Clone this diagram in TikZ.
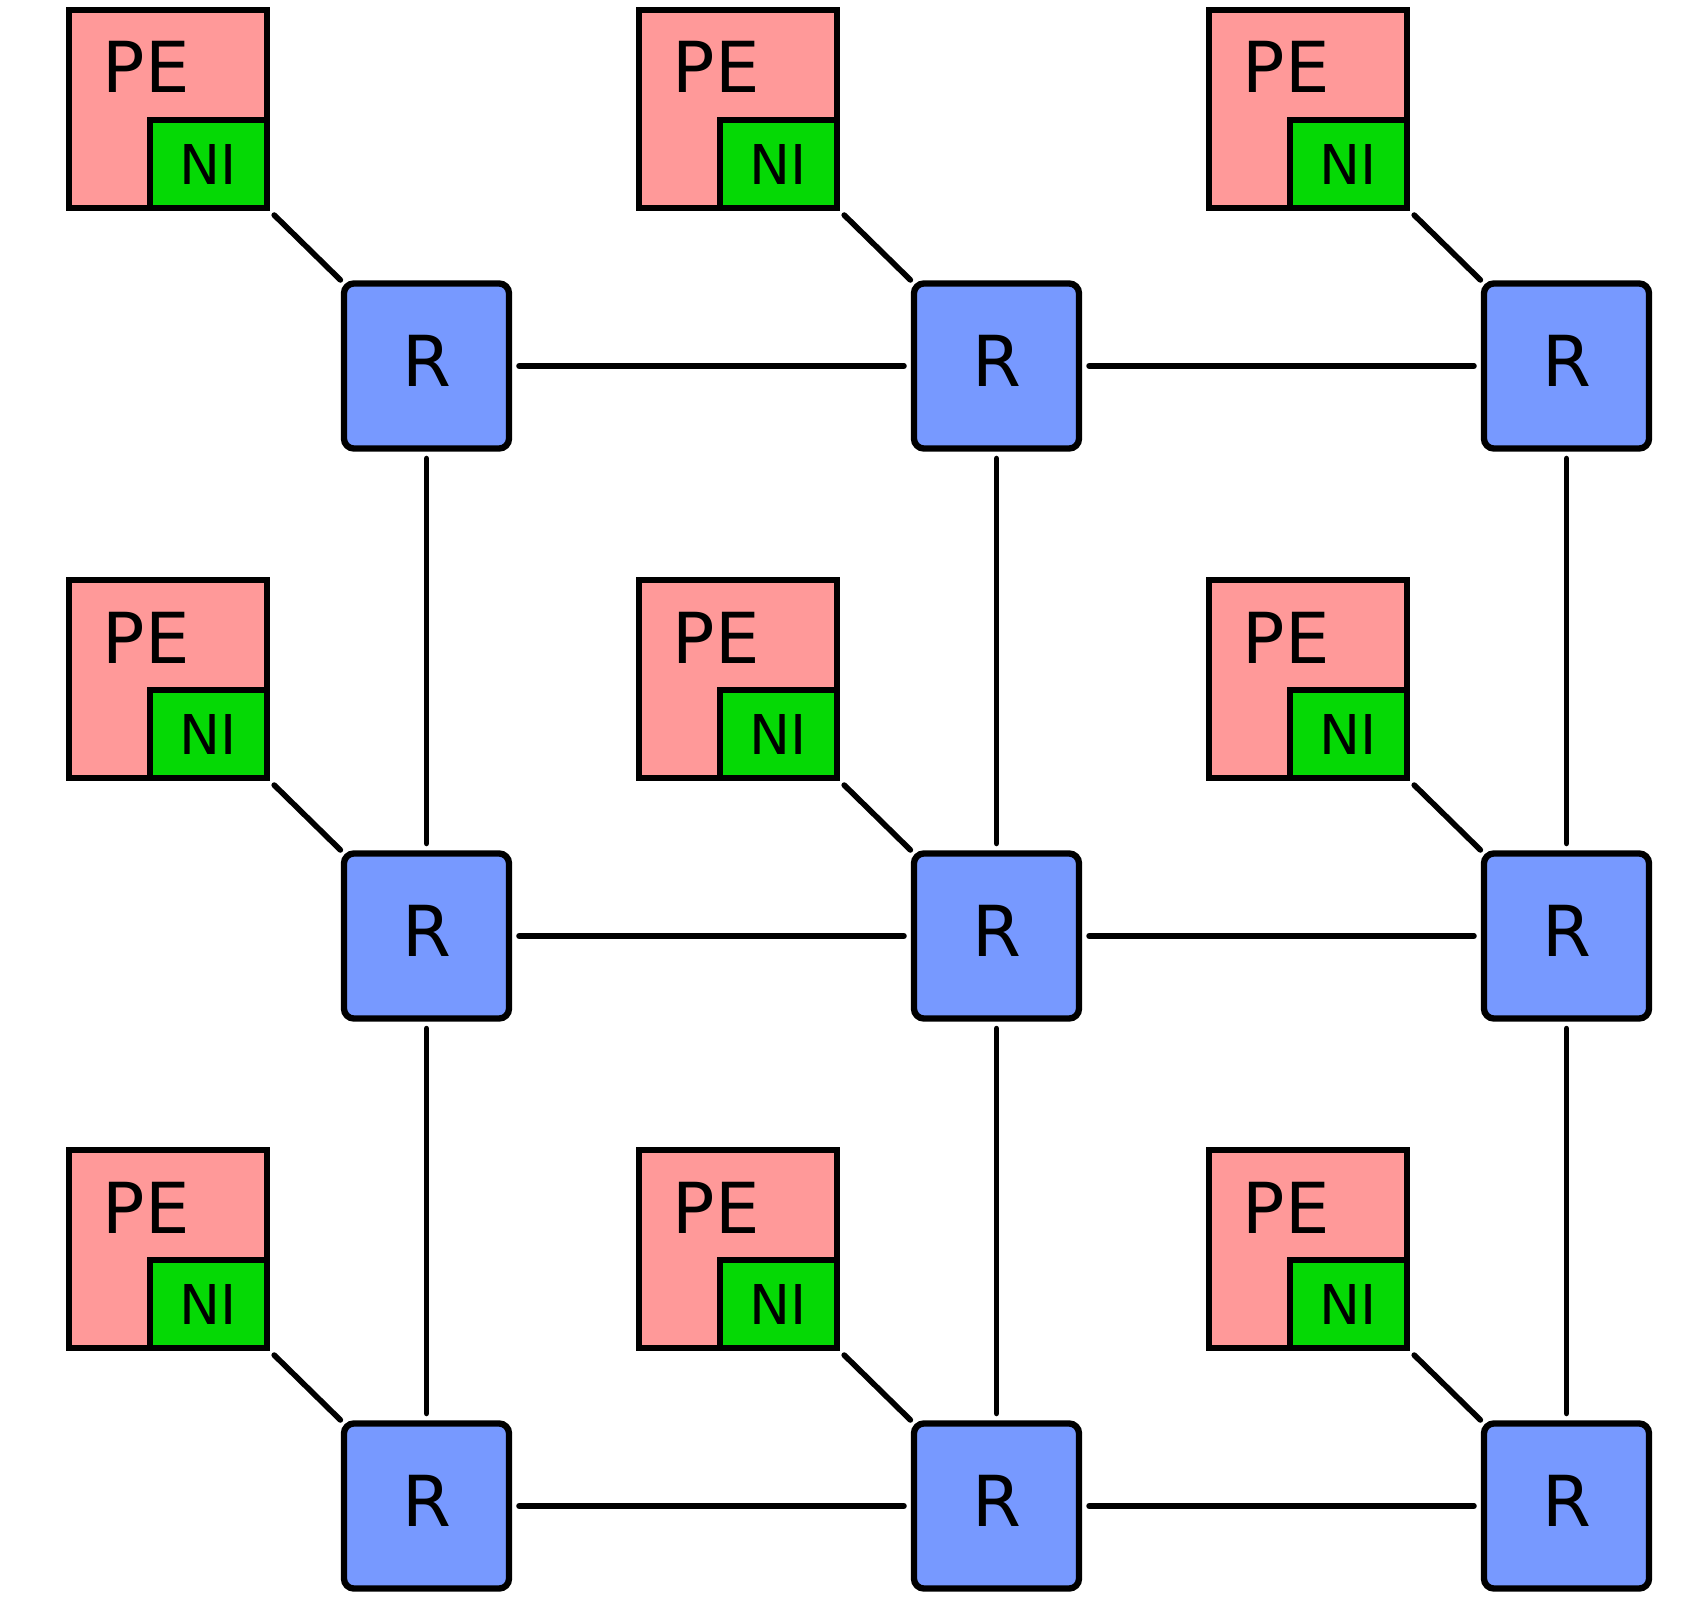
\documentclass[tikz,border=0pt]{standalone}
\usepackage{fontspec}
\setmainfont{DejaVu Sans}
\definecolor{peRed}{HTML}{FF9999}
\definecolor{niGreen}{HTML}{05D905}
\definecolor{rBlue}{HTML}{7799FF}
\begin{document}
\begin{tikzpicture}[x=0.01cm, y=-0.01cm,
	pebox/.style={draw, line width=1.7pt, fill=peRed, minimum size=1.98cm, inner sep=0pt, outer sep=0pt},
	nibox/.style={draw, line width=1.7pt, fill=niGreen, minimum width=1.17cm, minimum height=0.88cm, inner sep=0pt, outer sep=0pt, anchor=south east, font=\fontsize{15.6}{18}\selectfont},
	petext/.style={anchor=base west, inner sep=0pt, font=\fontsize{20}{24}\selectfont},
	router/.style={draw, line width=1.8pt, fill=rBlue, rounded corners=0.1cm, minimum size=1.65cm, inner sep=0pt, outer sep=0pt, text depth=0.1cm, font=\fontsize{20}{24}\selectfont},
	link/.style={line width=1.6pt, line cap=round, shorten <=0.1cm, shorten >=0.1cm}]
	\useasboundingbox (0,0) rectangle (1700,1600);
	
	% --- 1. Các khối PE (hàng trên, giữa, dưới) ---
	\node[pebox] (PE1) at (168,109) {};
	\node[pebox] (PE2) at (738,109) {};
	\node[pebox] (PE3) at (1308,109) {};
	\node[pebox] (PE4) at (168,679) {};
	\node[pebox] (PE5) at (738,679) {};
	\node[pebox] (PE6) at (1308,679) {};
	\node[pebox] (PE7) at (168,1249) {};
	\node[pebox] (PE8) at (738,1249) {};
	\node[pebox] (PE9) at (1308,1249) {};
	
	% Nhãn PE
	\node[petext] (T1) at (102,93) {PE};
	\node[petext] (T2) at (672,93) {PE};
	\node[petext] (T3) at (1242,93) {PE};
	\node[petext] (T4) at (102,663) {PE};
	\node[petext] (T5) at (672,663) {PE};
	\node[petext] (T6) at (1242,663) {PE};
	\node[petext] (T7) at (102,1233) {PE};
	\node[petext] (T8) at (672,1233) {PE};
	\node[petext] (T9) at (1242,1233) {PE};
	
	% --- 2. Các khối NI (góc dưới phải của PE) ---
	\node[nibox] (NI1) at (PE1.south east) {NI};
	\node[nibox] (NI2) at (PE2.south east) {NI};
	\node[nibox] (NI3) at (PE3.south east) {NI};
	\node[nibox] (NI4) at (PE4.south east) {NI};
	\node[nibox] (NI5) at (PE5.south east) {NI};
	\node[nibox] (NI6) at (PE6.south east) {NI};
	\node[nibox] (NI7) at (PE7.south east) {NI};
	\node[nibox] (NI8) at (PE8.south east) {NI};
	\node[nibox] (NI9) at (PE9.south east) {NI};
	
	% --- 3. Các router R ---
	\node[router] (R1) at (426.5,366) {R};
	\node[router] (R2) at (996.5,366) {R};
	\node[router] (R3) at (1566.5,366) {R};
	\node[router] (R4) at (426.5,936) {R};
	\node[router] (R5) at (996.5,936) {R};
	\node[router] (R6) at (1566.5,936) {R};
	\node[router] (R7) at (426.5,1506) {R};
	\node[router] (R8) at (996.5,1506) {R};
	\node[router] (R9) at (1566.5,1506) {R};
	
	% --- 4. Các đường nối ngang ---
	\draw[link] (R1) -- (R2);
	\draw[link] (R2) -- (R3);
	\draw[link] (R4) -- (R5);
	\draw[link] (R5) -- (R6);
	\draw[link] (R7) -- (R8);
	\draw[link] (R8) -- (R9);
	
	% Các đường nối dọc
	\draw[link] (R1) -- (R4);
	\draw[link] (R4) -- (R7);
	\draw[link] (R2) -- (R5);
	\draw[link] (R5) -- (R8);
	\draw[link] (R3) -- (R6);
	\draw[link] (R6) -- (R9);
	
	% --- 5. Nối NI với router ---
	\draw[link, shorten >=0.05cm] (NI1.south east) -- (R1.north west);
	\draw[link, shorten >=0.05cm] (NI2.south east) -- (R2.north west);
	\draw[link, shorten >=0.05cm] (NI3.south east) -- (R3.north west);
	\draw[link, shorten >=0.05cm] (NI4.south east) -- (R4.north west);
	\draw[link, shorten >=0.05cm] (NI5.south east) -- (R5.north west);
	\draw[link, shorten >=0.05cm] (NI6.south east) -- (R6.north west);
	\draw[link, shorten >=0.05cm] (NI7.south east) -- (R7.north west);
	\draw[link, shorten >=0.05cm] (NI8.south east) -- (R8.north west);
	\draw[link, shorten >=0.05cm] (NI9.south east) -- (R9.north west);
\end{tikzpicture}
\end{document}
